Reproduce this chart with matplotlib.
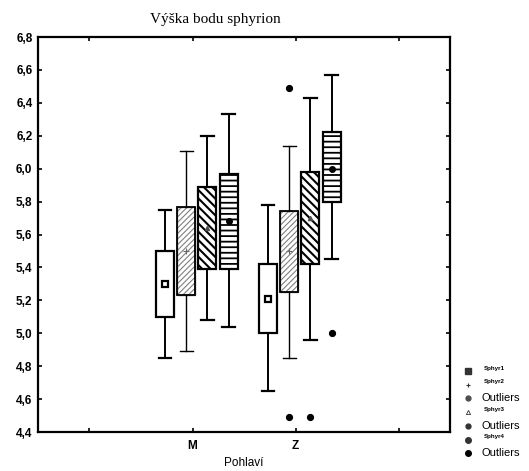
import matplotlib
matplotlib.use("Agg")
import matplotlib.pyplot as plt
from matplotlib.patches import PathPatch
from matplotlib.lines import Line2D

# ---- data -------------------------------------------------------------
groups = ["M", "Z"]
series = ["Sphyr1", "Sphyr2", "Sphyr3", "Sphyr4"]

# per series: values for (M, Z)
box_low = {"Sphyr1": [5.10, 5.00], "Sphyr2": [5.23, 5.25],
           "Sphyr3": [5.39, 5.42], "Sphyr4": [5.39, 5.80]}
box_high = {"Sphyr1": [5.50, 5.42], "Sphyr2": [5.77, 5.74],
            "Sphyr3": [5.89, 5.98], "Sphyr4": [5.97, 6.22]}
whisk_low = {"Sphyr1": [4.85, 4.65], "Sphyr2": [4.89, 4.85],
             "Sphyr3": [5.08, 4.96], "Sphyr4": [5.04, 5.45]}
whisk_high = {"Sphyr1": [5.75, 5.78], "Sphyr2": [6.11, 6.14],
              "Sphyr3": [6.20, 6.43], "Sphyr4": [6.33, 6.57]}
means = {"Sphyr1": [5.30, 5.21], "Sphyr2": [5.50, 5.50],
         "Sphyr3": [5.64, 5.70], "Sphyr4": [5.68, 6.00]}
outliers = {"Sphyr1": [[], []], "Sphyr2": [[], [6.49, 4.49]],
            "Sphyr3": [[], [4.49]], "Sphyr4": [[], [5.00]]}

y_ticks = [4.4, 4.6, 4.8, 5.0, 5.2, 5.4, 5.6, 5.8, 6.0, 6.2, 6.4, 6.6, 6.8]
y_tick_labels = ["4,4", "4,6", "4,8", "5,0", "5,2", "5,4", "5,6", "5,8",
                 "6,0", "6,2", "6,4", "6,6", "6,8"]

# ---- styling -----------------------------------------------------------
offsets = [-0.265, -0.06, 0.145, 0.35]
hatches = [None, "//////", "\\\\\\\\", "---"]
hatch_colors = ["black", "0.5", "black", "black"]
hatch_widths = [1.0, 0.8, 1.5, 1.3]
mean_markers = [dict(marker="s", ms=4.5, mfc="white", mec="black", mew=1.6),
                dict(marker="+", ms=4, mfc="0.4", mec="0.4", mew=0.8),
                dict(marker="^", ms=3, mfc="0.3", mec="0.3"),
                dict(marker="o", ms=4, mfc="black", mec="black")]

tick_font = dict(family="Liberation Sans", weight="bold", size=8.5)

fig = plt.figure(figsize=(5.29, 4.71), dpi=100)
ax = fig.add_axes([0.0718, 0.0828, 0.779, 0.8386])

for si, name in enumerate(series):
    stats = []
    positions = []
    for gi, g in enumerate(groups):
        stats.append(dict(med=means[name][gi], q1=box_low[name][gi],
                          q3=box_high[name][gi], whislo=whisk_low[name][gi],
                          whishi=whisk_high[name][gi], mean=means[name][gi],
                          fliers=outliers[name][gi]))
        positions.append(gi + offsets[si])
    light = si == 1
    lw = 1.0 if light else 1.6
    with plt.rc_context({"hatch.linewidth": hatch_widths[si]}):
        res = ax.bxp(stats, positions=positions, widths=0.175, capwidths=0.12,
                     patch_artist=True, showmeans=True, showfliers=True,
                     boxprops=dict(facecolor="white",
                                   edgecolor=hatch_colors[si], linewidth=lw),
                     whiskerprops=dict(color="black",
                                       linewidth=1.0 if light else 1.4),
                     capprops=dict(color="black",
                                   linewidth=1.0 if light else 1.6),
                     medianprops=dict(linewidth=0, alpha=0),
                     meanprops=dict(linestyle="none", **mean_markers[si]),
                     flierprops=dict(marker="o", ms=4.2, mfc="black",
                                     mec="black", linestyle="none"),
                     manage_ticks=False)
        for box in res["boxes"]:
            if hatches[si]:
                box.set_hatch(hatches[si])
                if hasattr(box, "set_hatch_linewidth"):
                    box.set_hatch_linewidth(hatch_widths[si])
            if light:
                ax.add_patch(PathPatch(box.get_path(), fill=False,
                                       edgecolor="black", linewidth=1.3,
                                       zorder=box.get_zorder() + 0.1))

ax.set_xlim(-1.5, 2.5)
ax.set_ylim(4.4, 6.8)
ax.set_xticks([0, 1])
ax.set_xticks([-1, 2], minor=True)
ax.set_xticklabels(groups, fontdict=tick_font)
ax.set_yticks(y_ticks)
ax.set_yticklabels(y_tick_labels, fontdict=tick_font)
ax.tick_params(which="both", direction="in", top=True, right=True,
               length=3, width=1.2, pad=4)
ax.tick_params(axis="x", pad=6)
for sp in ax.spines.values():
    sp.set_linewidth(1.6)

ax.set_title("Výška bodu sphyrion", family="Liberation Serif", size=11,
             pad=10)
ax.title.set_x(0.43)
ax.set_xlabel("Pohlaví", family="Liberation Sans", size=8.5, labelpad=3)

# ---- key on the right --------------------------------------------------
legend_rows = [("Sphyr1", dict(marker="s", ms=4, color="0.2"), True),
               ("Sphyr2", dict(marker="+", ms=3, color="0.2", mew=0.8), True),
               ("Outliers", dict(marker="o", ms=3.5, color="0.3"), False),
               ("Sphyr3", dict(marker="^", ms=3, mfc="none", mec="0.2", mew=0.6), True),
               ("Outliers", dict(marker="o", ms=3.5, color="0.2"), False),
               ("Sphyr4", dict(marker="o", ms=4, color="0.2"), True),
               ("Outliers", dict(marker="o", ms=4, color="black"), False)]
row_y0 = 1 - 371 / 471
row_step = 13.7 / 471
for i, (label, mk, small) in enumerate(legend_rows):
    y = row_y0 - i * row_step
    fig.add_artist(Line2D([0.885], [y], linestyle="none",
                          transform=fig.transFigure, **mk))
    if small:
        fig.text(0.915, y + 0.006, label, family="Liberation Sans",
                 weight="bold", size=4.5, va="center", ha="left")
    else:
        fig.text(0.911, y, label, family="Liberation Sans", size=8,
                 va="center", ha="left")

fig.savefig("out.png", dpi=100)
